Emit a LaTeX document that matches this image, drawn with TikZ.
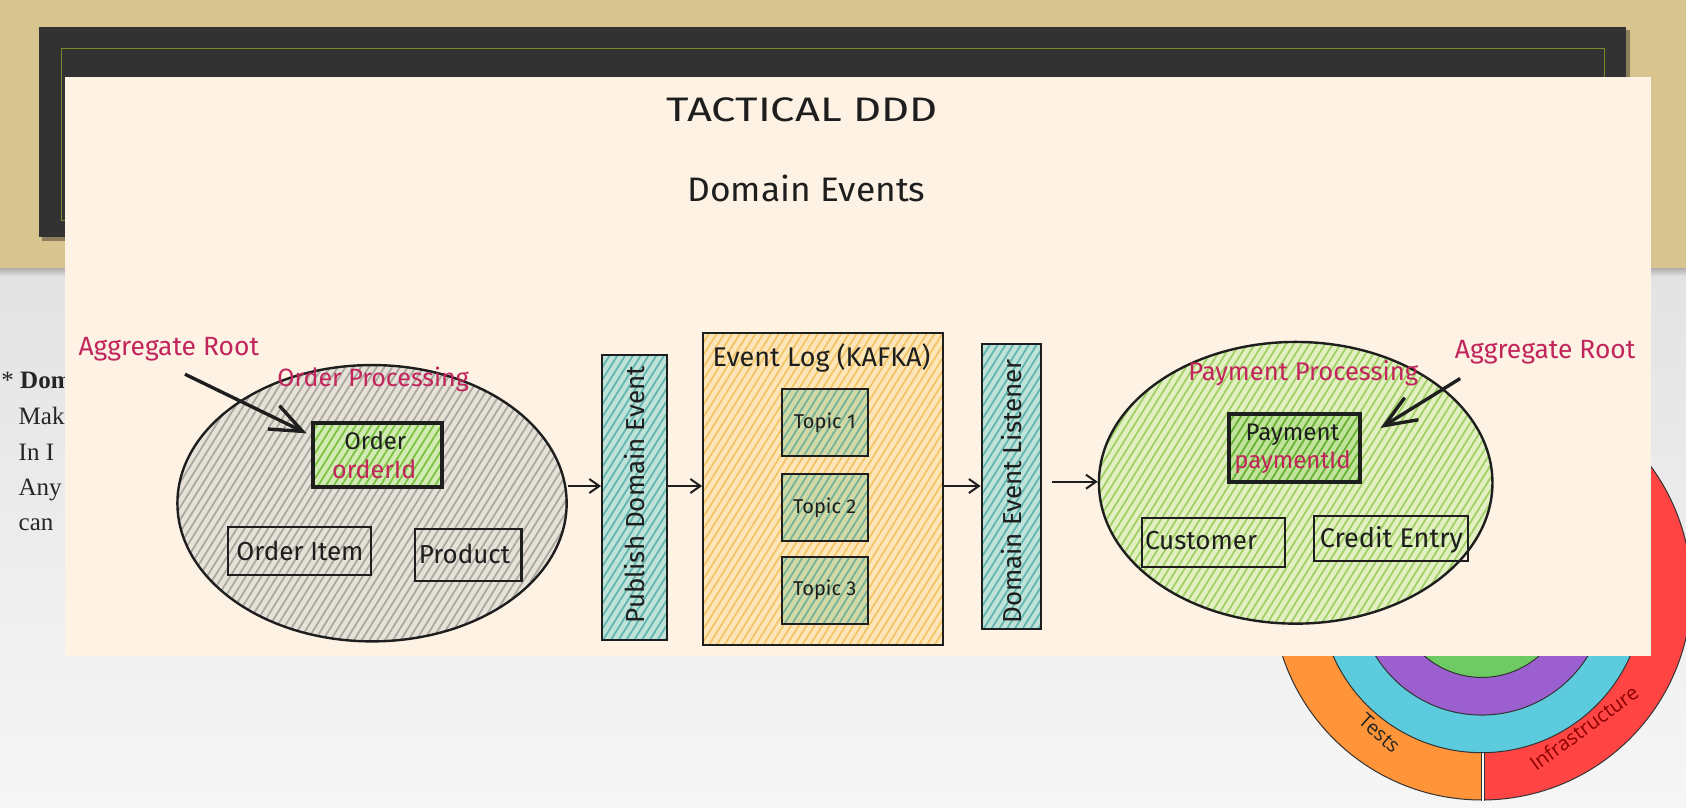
\documentclass[tikz,border=0pt]{standalone}
\usepackage{fontspec}
\setmainfont{Fira Sans}
\newfontfamily\serifF{Liberation Serif}
\newfontfamily\osans{Open Sans}
\usetikzlibrary{shapes.geometric,patterns.meta,arrows.meta}
\newdimen\dpx \dpx=0.53763pt
\definecolor{bgtan}{HTML}{D8C48E}
\definecolor{bggreyA}{HTML}{E3E3E3}
\definecolor{bggreyB}{HTML}{F6F6F6}
\definecolor{darkbox}{HTML}{323232}
\definecolor{olivebd}{HTML}{7A8A2A}
\definecolor{cream}{HTML}{FDF2E3}
\definecolor{ink}{HTML}{1E1E1E}
\definecolor{crimson}{HTML}{C2255C}
\definecolor{ghB}{HTML}{E6E2D8}\definecolor{ghL}{HTML}{ABA8A0}
\definecolor{grB}{HTML}{D2EBB4}\definecolor{grL}{HTML}{7CC242}
\definecolor{cyB}{HTML}{BFE2D9}\definecolor{cyL}{HTML}{62B6B0}
\definecolor{kaB}{HTML}{FDE7BA}\definecolor{kaL}{HTML}{F4C466}
\definecolor{toB}{HTML}{D3D9A4}\definecolor{toL}{HTML}{76B29A}
\definecolor{peB}{HTML}{E2F0C4}\definecolor{peL}{HTML}{A2D065}
\definecolor{pbB}{HTML}{C2E39C}\definecolor{pbL}{HTML}{66B332}
\definecolor{onOrange}{HTML}{FF9438}
\definecolor{onRed}{HTML}{FF4444}
\definecolor{onCyan}{HTML}{5CCBDD}
\definecolor{onPurple}{HTML}{9C5FD0}
\definecolor{onGreen}{HTML}{6ECB63}
\begin{document}
\begin{tikzpicture}[x=0.53763pt,y=-0.53763pt,
  hatch/.style 2 args={preaction={fill=#1}, pattern={Lines[angle=58,distance=3.3pt,line width=0.9pt]}, pattern color=#2},
  thinbox/.style={draw=ink, line width=1.1pt, inner sep=0pt},
  thickbox/.style={draw=ink, line width=2pt, inner sep=0pt},
  lbl/.style={font=\fontsize{12}{14}\selectfont, text=ink, inner sep=0pt},
  lblb/.style={font=\fontsize{13}{15}\selectfont, text=ink, inner sep=0pt},
  redlbl/.style={font=\fontsize{12.5}{14}\selectfont, text=crimson, inner sep=0pt},
  title/.style={font=\fontsize{17}{20}\selectfont, text=ink, inner sep=0pt},
  arr/.style={draw=ink, line width=1pt, -{Straight Barb[length=5pt,width=7pt]}},
  bigarr/.style={draw=ink, line width=1.7pt, -{Straight Barb[length=16pt,width=13pt]}},
  lefttext/.style={font=\serifF\fontsize{12.5}{14}\selectfont, text=black!85, inner sep=0pt, anchor=base west},
  onlbl/.style={font=\osans\fontsize{10}{12}\selectfont, inner sep=0pt}
]
\useasboundingbox (0,0) rectangle (1568,751.45);
% ---------- slide background ----------
\fill[bgtan] (0,0) rectangle (1568,250);
\shade[top color=bggreyA, bottom color=bggreyB] (0,250) rectangle (1568,751.45);
\shade[top color=black!30, bottom color=bggreyA] (0,250) rectangle (1568,257);
% left text of the slide
\node[lefttext] (lt1) at (1,361) {* \textbf{Dom}};
\node[lefttext] (lt2) at (17,395) {Mak};
\node[lefttext] (lt3) at (17,428) {In I};
\node[lefttext] (lt4) at (17,461) {Any};
\node[lefttext] (lt5) at (17,493) {can};
% onion diagram
\coordinate (oc) at (1378,549);
\fill[onOrange] (oc) ++(0,-195) arc[start angle=90, end angle=270, radius=195*\dpx] -- cycle;
\fill[onRed] (oc) ++(0,195) arc[start angle=-90, end angle=90, radius=195*\dpx] -- cycle;
\draw[black!80, line width=0.5pt] (oc) circle[radius=195*\dpx];
\draw[white, line width=1.6pt] (1379,690) -- (1379,745);
\draw[black!80, line width=0.4pt] (1377.3,690) -- (1377.3,744.5) (1380.7,690) -- (1380.7,744.5);
\draw[black!80, line width=0.5pt, fill=onCyan] (oc) circle[radius=151*\dpx];
\draw[black!80, line width=0.5pt, fill=onPurple] (oc) circle[radius=116*\dpx];
\draw[black!80, line width=0.5pt, fill=onGreen] (oc) circle[radius=81*\dpx];
\node[onlbl, text=black!85, rotate=-42] (tests) at (1283,682) {Tests};
\node[onlbl, text=red!55!black, rotate=36] (infra) at (1473,677) {Infrastructure};
% dark title box
\fill[black, opacity=0.35] (39,28) rectangle (1516,224);
\fill[darkbox] (36,25) rectangle (1512,220);
\draw[olivebd, line width=0.6pt] (57,45) rectangle (1492,205);
% cream panel
\fill[cream] (60,72) rectangle (1535,610);
% ---------- diagram ----------
\node[title] (t1) at (746,102) {\scalebox{1.28}[1]{TACTICAL DDD}};
\node[title] (t2) at (750,175) {\scalebox{1.04}[1]{Domain Events}};
% order processing
\node[ellipse, draw=ink, line width=1.2pt, minimum width=362*\dpx, minimum height=257*\dpx, hatch={ghB}{ghL}] (oell) at (346,468) {};
\node[redlbl] (oproc) at (347,353) {Order Processing};
\node[thickbox, minimum width=120*\dpx, minimum height=60*\dpx, hatch={grB}{grL}] (ord) at (351,423) {};
\node[lbl] (ordt) at (349,410) {Order};
\node[redlbl, font=\fontsize{12.5}{14}\selectfont] (ordid) at (348,436) {orderId};
\node[thinbox, minimum width=133*\dpx, minimum height=45*\dpx] (oitem) at (278.5,512.5) {};
\node[lblb] (oitemt) at (279,512) {Order Item};
\node[thinbox, minimum width=99*\dpx, minimum height=48*\dpx] (prod) at (435.5,516) {};
\node[lblb] (prodt) at (432,515) {Product};
\node[redlbl, font=\fontsize{13.2}{15}\selectfont] (agl) at (157,325) {Aggregate Root};
\coordinate (aglS) at (172,348);
\coordinate (aglE) at ([xshift=-4*\dpx, yshift=20*\dpx]ord.west);
\draw[bigarr] (aglS) -- (aglE);
% publish bar
\node[thinbox, minimum width=60*\dpx, minimum height=265*\dpx, hatch={cyB}{cyL}] (pub) at (590,462.5) {};
\node[lblb, rotate=90] (pubt) at (590,460) {Publish Domain Event};
% kafka
\node[thinbox, minimum width=223*\dpx, minimum height=290*\dpx, hatch={kaB}{kaL}] (kafka) at (765.5,455) {};
\node[lblb, font=\fontsize{13.5}{15}\selectfont] (kafkat) at (764,333) {Event Log (KAFKA)};
\node[thinbox, lbl, font=\fontsize{10}{11}\selectfont, minimum width=80*\dpx, minimum height=62*\dpx, hatch={toB}{toL}] (top1) at (767,393) {Topic 1};
\node[thinbox, lbl, font=\fontsize{10}{11}\selectfont, minimum width=80*\dpx, minimum height=62*\dpx, hatch={toB}{toL}] (top2) at (767,472) {Topic 2};
\node[thinbox, lbl, font=\fontsize{10}{11}\selectfont, minimum width=80*\dpx, minimum height=62*\dpx, hatch={toB}{toL}] (top3) at (767,549) {Topic 3};
% listener bar
\node[thinbox, minimum width=55*\dpx, minimum height=265*\dpx, hatch={cyB}{cyL}] (lis) at (940.5,452.5) {};
\node[lblb, rotate=90] (list) at (941,457) {Domain Event Listener};
% payment processing
\node[ellipse, draw=ink, line width=1.2pt, minimum width=366*\dpx, minimum height=262*\dpx, hatch={peB}{peL}] (pell) at (1205,449) {};
\node[redlbl, font=\fontsize{12.8}{14}\selectfont] (pproc) at (1212,347) {Payment Processing};
\node[thickbox, minimum width=122*\dpx, minimum height=63*\dpx, hatch={pbB}{pbL}] (pay) at (1204,416.5) {};
\node[lbl] (payt) at (1202,404) {Payment};
\node[redlbl, font=\fontsize{12}{14}\selectfont] (payid) at (1202,430) {paymentId};
\node[thinbox, minimum width=133*\dpx, minimum height=45*\dpx] (cust) at (1128.5,504.5) {};
\node[lblb] (custt) at (1117,503) {Customer};
\node[thinbox, minimum width=143*\dpx, minimum height=42*\dpx] (cred) at (1293.5,501) {};
\node[lblb, font=\fontsize{13.5}{15}\selectfont] (credt) at (1294,502) {Credit Entry};
\node[redlbl, font=\fontsize{13.2}{15}\selectfont] (agr) at (1437,328) {Aggregate Root};
\coordinate (agrS) at (1358,352);
\coordinate (agrE) at ([xshift=17*\dpx, yshift=18.5*\dpx]pay.east);
\draw[bigarr] (agrS) -- (agrE);
% flow arrows
\coordinate (ya) at (0,452);
\coordinate (yb) at (0,448);
\draw[arr] (oell.east |- ya) -- (pub.west |- ya);
\draw[arr] (pub.east |- ya) -- (kafka.west |- ya);
\draw[arr] (kafka.east |- ya) -- (lis.west |- ya);
\draw[arr, shorten <=9*\dpx] (lis.east |- yb) -- (pell.west |- yb);
\end{tikzpicture}
\end{document}
